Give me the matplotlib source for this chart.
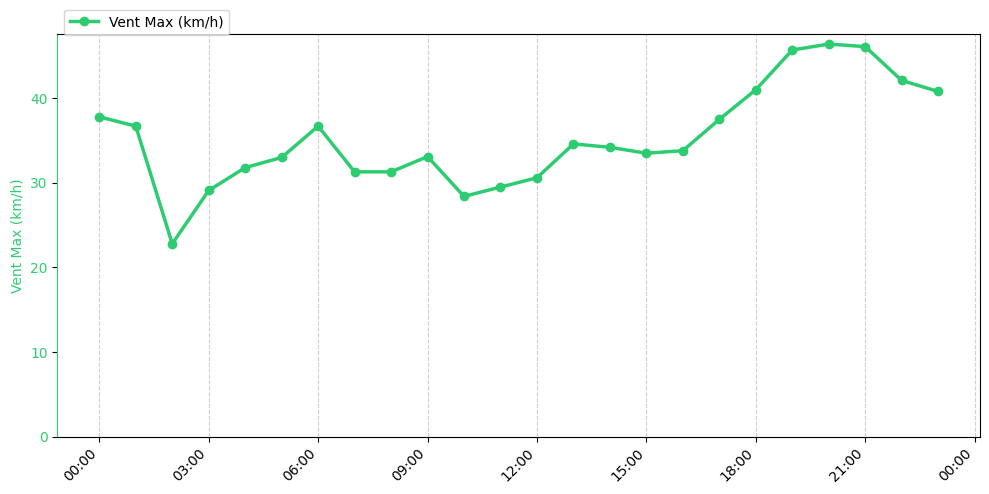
import pandas as pd
import matplotlib
matplotlib.use("Agg")
import matplotlib.pyplot as plt
import matplotlib.dates as mdates

# hourly max wind values
hours = pd.date_range("2024-01-01 00:00", periods=24, freq="h")
vent_max = [37.8, 36.7, 22.8, 29.1, 31.8, 33.0, 36.7, 31.3, 31.3, 33.1,
            28.4, 29.5, 30.6, 34.6, 34.2, 33.5, 33.8, 37.5, 41.0, 45.7,
            46.4, 46.1, 42.1, 40.8]
label = "Vent Max (km/h)"
green = "#2ecc71"

fig, ax = plt.subplots(figsize=(9.89, 4.94), dpi=100)
ax.plot(hours, vent_max, color=green, marker="o", linewidth=2.5,
        markersize=6, label=label)
ax.set_ylabel(label, color=green)
ax.tick_params(axis="y", labelcolor=green)
ax.spines["left"].set_color(green)
ax.set_ylim(bottom=0)

ax.xaxis.set_major_locator(mdates.HourLocator(interval=3))
ax.xaxis.set_major_formatter(mdates.DateFormatter("%H:%M"))
plt.setp(ax.get_xticklabels(), rotation=45, ha="right")
ax.grid(axis="x", linestyle="--", alpha=0.6)

ax.legend(loc="upper left", bbox_to_anchor=(0, 1.078))
fig.subplots_adjust(left=0.058, right=0.991, top=0.931, bottom=0.116)
fig.savefig("out.png")
